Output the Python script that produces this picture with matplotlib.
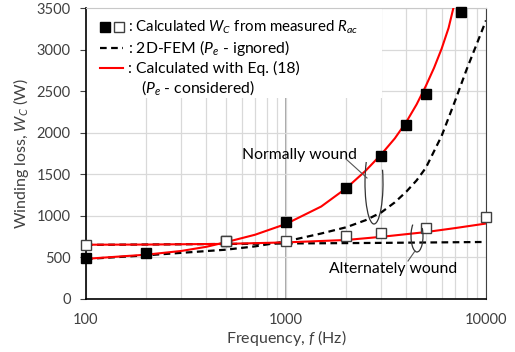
import matplotlib
matplotlib.use("Agg")
import matplotlib.pyplot as plt
from matplotlib.patches import Arc, Rectangle
from matplotlib.ticker import FixedLocator, NullFormatter

plt.rcParams['font.family'] = ['Lato', 'DejaVu Sans']
plt.rcParams['mathtext.fontset'] = 'custom'
plt.rcParams['mathtext.it'] = 'Lato:italic'
plt.rcParams['mathtext.rm'] = 'Lato'

# ---- data ----
freq_normal_meas = [100, 200, 500, 1000, 2000, 3000, 4000, 5000, 7500]
normal_meas = [490, 555, 700, 925, 1335, 1720, 2090, 2470, 3450]

freq_alt_meas = [100, 500, 1000, 2000, 3000, 5000, 10000]
alt_meas = [650, 690, 700, 750, 790, 850, 980]

freq_normal_eq = [100, 200, 300, 400, 500, 700, 1000, 1500, 2000, 2500, 3000, 3500,
                  4000, 4500, 5000, 5500, 6000, 6500, 6870]
normal_eq = [480, 530, 575, 625, 680, 770, 900, 1110, 1330, 1540, 1740, 1930,
             2130, 2340, 2560, 2780, 3010, 3260, 3500]

freq_normal_fem = [100, 200, 500, 700, 1000, 1500, 2000, 2500, 3000, 3500, 4000, 4500,
                   5000, 6000, 7000, 8000, 9000, 10000]
normal_fem = [478, 522, 590, 630, 690, 785, 860, 945, 1040, 1160, 1290, 1425,
              1575, 1960, 2380, 2760, 3070, 3350]

freq_alt_eq = [100, 200, 500, 1000, 2000, 3000, 5000, 7000, 10000]
alt_eq = [650, 652, 660, 678, 707, 745, 802, 850, 905]

freq_alt_fem = [100, 300, 1000, 3000, 10000]
alt_fem = [648, 655, 665, 672, 683]

yticks = [0, 500, 1000, 1500, 2000, 2500, 3000, 3500]
xticks = [100, 1000, 10000]
xtick_labels = ['100', '1000', '10000']

# ---- figure ----
fig = plt.figure(figsize=(5.15, 3.52), dpi=100)
ax = fig.add_axes([86/515, 1-298.7/352, 400/515, 290.7/352])
ax.set_xscale('log')
ax.set_xlim(100, 10000)
ax.set_ylim(0, 3500)

minor = [m*10**e for e in (2, 3) for m in range(2, 10)]
ax.xaxis.set_minor_locator(FixedLocator(minor))
ax.xaxis.set_minor_formatter(NullFormatter())
ax.set_xticks(xticks)
ax.set_xticklabels(xtick_labels)
ax.set_yticks(yticks)
ax.grid(True, which='both', axis='x', color='#d9d9d9', lw=0.9, zorder=0)
ax.grid(True, which='major', axis='y', color='#d9d9d9', lw=0.9, zorder=0)
ax.axvline(1000, color='#8c8c8c', lw=1.1, zorder=0.5)
ax.set_axisbelow(True)

ax.tick_params(axis='x', which='both', length=0, pad=10, labelsize=10.5, colors='#404040')
ax.tick_params(axis='y', length=4, width=0.8, pad=7, labelsize=10.5, colors='#404040')
for s in ['left', 'bottom']:
    ax.spines[s].set_color('black')
    ax.spines[s].set_linewidth(1.2)
ax.spines['right'].set_color('#404040')
ax.spines['top'].set_color('#c8c8c8')

ax.add_patch(Rectangle((0, 0.69), 0.74, 0.31, transform=ax.transAxes,
                       facecolor='white', edgecolor='none', zorder=1))

dash = (0, (3, 2))
ax.plot(freq_normal_fem, normal_fem, color='black', ls=dash, lw=1.6, zorder=3)
ax.plot(freq_alt_fem, alt_fem, color='black', ls=dash, lw=1.6, zorder=3)
ax.plot(freq_normal_eq, normal_eq, color='#ff0000', lw=1.5, zorder=4)
ax.plot(freq_alt_eq, alt_eq, color='#ff0000', lw=1.5, zorder=4)

ms = 6.8
ax.plot(freq_normal_meas, normal_meas, ls='none', marker='s', ms=ms,
        mfc='black', mec='black', zorder=5, clip_on=False)
ax.plot(freq_alt_meas, alt_meas, ls='none', marker='s', ms=ms,
        mfc='white', mec='#404040', mew=1.0, zorder=6, clip_on=False)

T = ax.transAxes
def px(x, y):
    return ((x-86)/400, (298.7-y)/290.7)

fs = 11.3
x0, y0 = px(105, 27)
ax.plot([x0], [y0], 's', ms=ms, mfc='black', mec='black', transform=T, zorder=7)
x1, _ = px(119, 27)
ax.plot([x1], [y0], 's', ms=ms, mfc='white', mec='#404040', mew=1.0, transform=T, zorder=7)
tx, _ = px(128, 0)
ax.text(tx, y0, r': Calculated $W_C$ from measured $R_{ac}$', transform=T, fontsize=10.8,
        va='center', ha='left', zorder=7)
a, y2 = px(100, 48)
b, _ = px(123, 48)
ax.plot([a, b], [y2, y2], color='black', ls=dash, lw=1.6, transform=T, zorder=7)
ax.text(tx, y2, r': 2D-FEM ($P_e$ - ignored)', transform=T, fontsize=fs, va='center', ha='left', zorder=7)
_, y3 = px(100, 68)
ax.plot([a, b], [y3, y3], color='#ff0000', lw=1.5, transform=T, zorder=7)
ax.text(tx, y3, ': Calculated with Eq. (18)', transform=T, fontsize=fs, va='center', ha='left', zorder=7)
tx4, y4 = px(141, 88)
ax.text(tx4, y4, r'($P_e$ - considered)', transform=T, fontsize=fs, va='center', ha='left', zorder=7)

nx, ny = px(299, 155)
ax.text(nx, ny, 'Normally wound', transform=T, fontsize=fs, ha='center', va='center', zorder=7)
ax_, ay_ = px(393, 269)
ax.text(ax_, ay_, 'Alternately wound', transform=T, fontsize=fs, ha='center', va='center', zorder=7)

c1 = px(374, 183)
ax.add_patch(Arc(c1, 18/400, 82/290.7, angle=0, theta1=105, theta2=425,
                 transform=T, color='#333333', lw=0.9, zorder=7))
p, q = px(346, 159), px(367, 178)
ax.plot([p[0], q[0]], [p[1], q[1]], color='#555555', lw=0.8, transform=T, zorder=7)

c2 = px(417, 236)
ax.add_patch(Arc(c2, 12/400, 32/290.7, angle=0, theta1=105, theta2=425,
                 transform=T, color='#333333', lw=0.9, zorder=7))
p, q = px(408, 261), px(415, 251)
ax.plot([p[0], q[0]], [p[1], q[1]], color='#555555', lw=0.8, transform=T, zorder=7)

ax.set_xlabel(r'Frequency, $f$ (Hz)', fontsize=11.5, color='#404040', labelpad=1)
ax.set_ylabel(r'Winding loss, $W_C$ (W)', fontsize=11.5, color='#404040', labelpad=4)

fig.savefig('out.png', dpi=100)
